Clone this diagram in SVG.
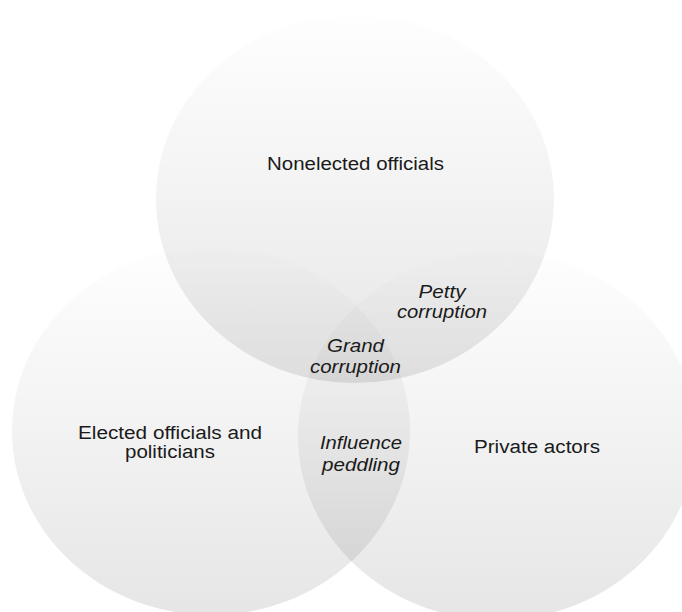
<svg xmlns="http://www.w3.org/2000/svg" width="682" height="612" viewBox="0 0 682 612">
<defs>
<linearGradient id="g" x1="0" y1="0" x2="0" y2="1">
<stop offset="0" stop-color="#000" stop-opacity="0.005"/>
<stop offset="0.5" stop-color="#000" stop-opacity="0.05"/>
<stop offset="1" stop-color="#000" stop-opacity="0.1"/>
</linearGradient>
</defs>
<style>
.c{fill:url(#g);stroke:none}
.t{font-family:"Liberation Sans",Arial,sans-serif;font-size:18px;fill:#1a1a1a;text-anchor:middle}
.i{font-style:italic}
</style>
<rect width="682" height="612" fill="#fff"/>
<g id="nonelected">
<ellipse class="c" cx="355" cy="199" rx="199" ry="184"/>
<text class="t" x="355.5" y="170" textLength="177" lengthAdjust="spacingAndGlyphs">Nonelected officials</text>
</g>
<g id="elected">
<ellipse class="c" cx="211" cy="431" rx="199" ry="184"/>
<text class="t" x="170" y="439" textLength="184" lengthAdjust="spacingAndGlyphs">Elected officials and</text>
<text class="t" x="170" y="458" textLength="90" lengthAdjust="spacingAndGlyphs">politicians</text>
</g>
<g id="private">
<ellipse class="c" cx="497" cy="436" rx="199" ry="184"/>
<text class="t" x="537" y="453" textLength="126" lengthAdjust="spacingAndGlyphs">Private actors</text>
</g>
<g id="petty">
<text class="t i" x="442" y="298" textLength="47" lengthAdjust="spacingAndGlyphs">Petty</text>
<text class="t i" x="442" y="318" textLength="90" lengthAdjust="spacingAndGlyphs">corruption</text>
</g>
<g id="grand">
<text class="t i" x="355.5" y="352" textLength="57" lengthAdjust="spacingAndGlyphs">Grand</text>
<text class="t i" x="355.5" y="373" textLength="91" lengthAdjust="spacingAndGlyphs">corruption</text>
</g>
<g id="influence">
<text class="t i" x="361" y="449" textLength="82" lengthAdjust="spacingAndGlyphs">Influence</text>
<text class="t i" x="361" y="471" textLength="78" lengthAdjust="spacingAndGlyphs">peddling</text>
</g>
</svg>
